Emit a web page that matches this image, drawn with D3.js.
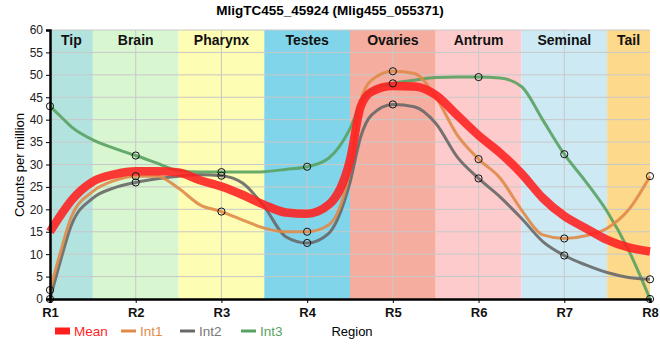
<!DOCTYPE html>
<html><head><meta charset="utf-8">
<script src="https://cdn.jsdelivr.net/npm/d3@7"></script>
<style>
body{margin:0;background:#fff;}
text{font-family:"Liberation Sans",Arial,sans-serif;}
</style></head>
<body><svg id="c" width="660" height="360"></svg>
<script>
const regions = ["R1","R2","R3","R4","R5","R6","R7","R8"];
const tissues = ["Tip","Brain","Pharynx","Testes","Ovaries","Antrum","Seminal","Tail"];
const tissueColors = ["#b3e3df","#d8f6cf","#fdfdb3","#80d5eb","#f5ad9f","#fdcbcc","#cdeaf4","#fdd98b"];
// sample positions along the body (0 = R1 ... 7 = R8)
const pos = [0,0.125,0.25,0.5,0.75,1,1.25,1.5,1.75,2,2.25,2.5,2.75,3,3.25,3.5,3.625,3.75,4,4.25,4.5,4.75,5,5.25,5.5,5.75,6,6.25,6.5,6.75,7];
const meanVals = [15,18.7,22,26.2,27.8,28.5,28.5,28.2,26.5,25.1,23.2,21,19.3,19,21,31,42.9,46.2,47.5,47.4,45.5,41,36.5,32.6,28,22.5,18.5,15.8,13.2,11.5,10.6];
const int1Vals = [2,10.6,18.4,24,26.4,27.4,27.4,24.7,21,19.5,17.6,15.8,15,15,16.5,29,44,48.8,50.8,50.3,45.1,36.6,31.2,27,19.9,14.3,13.5,14.1,15.8,19.9,27.4];
const int2Vals = [0,8.7,16.5,22.5,24.8,26,26.8,27.4,27.7,27.5,25.8,20.6,13.9,12.5,14.6,26,36.2,41,43.4,42.9,39.2,31.7,26.9,22.8,18,12.8,9.7,7.6,5.9,4.8,4.4];
const int3Vals = [43,40.7,38.4,35.5,33.6,32,30.3,28.6,28.3,28.3,28.3,28.4,28.9,29.5,31.4,38,43.6,46.6,48.1,48.8,49.4,49.5,49.5,49.3,47.4,39.9,32.3,26.2,19.5,10.9,0];
const yTicks = [0,5,10,15,20,25,30,35,40,45,50,55,60];
const seriesNames = ["Mean","Int1","Int2","Int3"];
const seriesColors = ["#ff1f1f","#e08a48","#686868","#58a262"];

const svg = d3.select("#c");
const L=50, R=650, T=30, B=299;
const x = d3.scaleLinear().domain([0,7]).range([L,R]);
const y = d3.scaleLinear().domain([0,60]).range([B,T]);

// background bands
const bands = svg.append("g");
tissues.forEach((t,i)=>{
  const x0 = Math.max(L, x(i-0.5)), x1 = Math.min(R, x(i+0.5));
  bands.append("rect").attr("x",x0).attr("y",T).attr("width",x1-x0).attr("height",B-T).attr("fill",tissueColors[i]);
});
// grid
svg.append("g").selectAll("line").data(yTicks.filter(d=>d>0)).join("line")
  .attr("x1",L).attr("x2",R).attr("y1",d=>y(d)).attr("y2",d=>y(d)).attr("stroke","#c8c8c8").attr("stroke-width",1);
svg.append("g").selectAll("line").data(d3.range(1,7)).join("line")
  .attr("x1",d=>x(d)).attr("x2",d=>x(d)).attr("y1",T).attr("y2",B).attr("stroke","#c8c8c8").attr("stroke-width",1);
tissues.forEach((t,i)=>{
  const x0 = Math.max(L, x(i-0.5)), x1 = Math.min(R, x(i+0.5));
  svg.append("text").attr("x",(x0+x1)/2).attr("y",T+15).attr("text-anchor","middle")
   .attr("font-size",14).attr("font-weight","bold").attr("fill","#111").text(t);
});

// lines
const line = d3.line().x((d,i)=>x(pos[i])).y(d=>y(d)).curve(d3.curveMonotoneX);
[[int3Vals,3],[int2Vals,2],[int1Vals,1]].forEach(([vals,k])=>{
  svg.append("path").attr("d",line(vals)).attr("fill","none").attr("stroke",seriesColors[k]).attr("stroke-width",3).attr("stroke-opacity",0.9);
});
svg.append("path").attr("d",line(meanVals)).attr("fill","none").attr("stroke",seriesColors[0]).attr("stroke-width",8.5).attr("stroke-opacity",0.88);
[int1Vals,int2Vals,int3Vals].forEach(vals=>{
  const pts = vals.map((v,i)=>[pos[i],v]).filter(p=>Number.isInteger(p[0]));
  svg.append("g").selectAll("circle").data(pts).join("circle")
    .attr("cx",d=>x(d[0])).attr("cy",d=>y(d[1])).attr("r",3.6)
    .attr("fill","none").attr("stroke","#111").attr("stroke-width",1);
});

// axes
const ya = svg.append("g").attr("transform",`translate(${L},0)`).call(d3.axisLeft(y).tickValues(yTicks).tickSize(4));
ya.select(".domain").attr("stroke","#000").attr("stroke-width",2.5);
ya.selectAll("text").attr("font-size",12).attr("fill","#222");
const xa = svg.append("g").attr("transform",`translate(0,${B})`).call(d3.axisBottom(x).tickValues(d3.range(0,8)).tickFormat(i=>regions[i]).tickSize(4));
xa.select(".domain").attr("stroke","#000").attr("stroke-width",2.5);
xa.selectAll("text").attr("font-size",13).attr("font-weight","bold").attr("fill","#111").attr("dy","0.85em");

// title and labels
svg.append("text").attr("x",330).attr("y",15).attr("text-anchor","middle").attr("font-size",13.5).attr("font-weight","bold").text("MligTC455_45924 (Mlig455_055371)");
svg.append("text").attr("transform","translate(24,165) rotate(-90)").attr("text-anchor","middle").attr("font-size",13).text("Counts per million");
svg.append("text").attr("x",352).attr("y",336).attr("text-anchor","middle").attr("font-size",13).text("Region");

// legend
const lx = [55,121,180,241];
seriesNames.forEach((n,i)=>{
  if(i===0) svg.append("rect").attr("x",lx[i]).attr("y",327.5).attr("width",15).attr("height",7).attr("fill",seriesColors[i]);
  else svg.append("line").attr("x1",lx[i]).attr("x2",lx[i]+15).attr("y1",331).attr("y2",331).attr("stroke",seriesColors[i]).attr("stroke-width",3);
  svg.append("text").attr("x",lx[i]+19).attr("y",336).attr("font-size",13.5).attr("fill",i===2?"#777":seriesColors[i]).text(n);
});
</script></body></html>
